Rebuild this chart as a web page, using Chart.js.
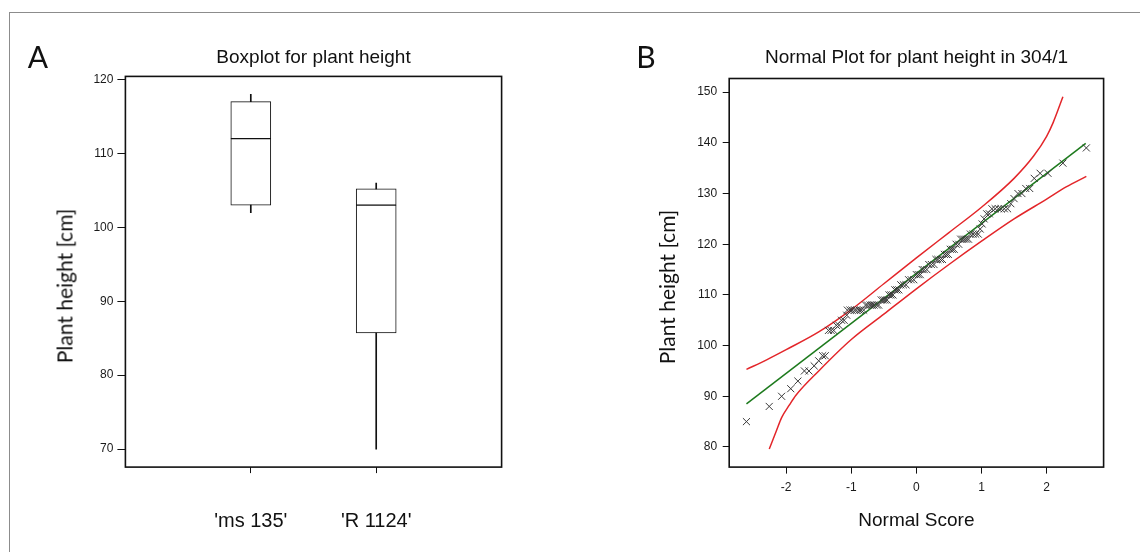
<!DOCTYPE html>
<html>
<head>
<meta charset="utf-8">
<script src="https://cdn.jsdelivr.net/npm/chart.js@4.4.1/dist/chart.umd.min.js"></script>
<style>
  body { margin: 0; width: 1140px; height: 552px; overflow: hidden; position: relative; background: #fff; }
  canvas { position: absolute; top: 0; }
  .frame { position: absolute; left: 9px; top: 12px; width: 1200px; height: 600px;
           border-top: 1.5px solid #8c8c8c; border-left: 1.5px solid #8c8c8c; }
  .lbl { position: absolute; font-family: Lato, "Open Sans", sans-serif; color: #111;
         transform: translate(-50%, -50%); white-space: nowrap; }
  .panel { font-size: 30px; }
  .ylab { font-size: 21px; transform: translate(-50%, -50%) rotate(-90deg); }
</style>
</head>
<body>
<div class="frame"></div>
<canvas id="chartA" width="627" height="552" style="left:0px"></canvas>
<canvas id="chartB" width="593" height="552" style="left:620px"></canvas>
<div class="lbl panel" style="left:38px; top:56px">A</div>
<div class="lbl panel" style="left:646px; top:56px">B</div>
<div class="lbl ylab" style="left:64px; top:286px">Plant height [cm]</div>
<div class="lbl ylab" style="left:666px; top:287px">Plant height [cm]</div>
<script>
// --------------------
// DATA - panel A (boxplot)
// --------------------
const boxLabels = ["", "'ms 135'", "'R 1124'", ""];
const boxMin = [null, 102, 70, null];
const boxQ1 = [null, 103, 85.7, null];
const boxMedian = [null, 112, 103, null];
const boxQ3 = [null, 117, 105.2, null];
const boxMax = [null, 118, 106, null];
const axisTicksA = [70, 80, 90, 100, 110, 120];

// --------------------
// DATA - panel B (normal plot)
// --------------------
const normalScore = [
  -2.61, -2.26, -2.07, -1.93, -1.82, -1.72, -1.65, -1.57, -1.50, -1.44, -1.40,
  -1.35, -1.31, -1.27, -1.23, -1.19, -1.15, -1.11, -1.07,
  -1.06, -1.02, -0.99, -0.95, -0.92, -0.88, -0.85, -0.81,
  -0.78, -0.75, -0.71, -0.68, -0.65, -0.61, -0.58,
  -0.54, -0.51, -0.48, -0.45,
  -0.42, -0.39, -0.36,
  -0.33, -0.30, -0.27,
  -0.24, -0.20, -0.16,
  -0.12, -0.08, -0.04,
  0.00, 0.03, 0.06,
  0.09, 0.12, 0.16,
  0.19, 0.23, 0.27,
  0.30, 0.33, 0.37, 0.40,
  0.43, 0.46, 0.49,
  0.52, 0.55, 0.58,
  0.61, 0.65,
  0.68, 0.71, 0.74, 0.77, 0.80,
  0.83, 0.87, 0.91, 0.95,
  0.98, 1.01, 1.04, 1.08, 1.12,
  1.16, 1.21, 1.26, 1.30, 1.35, 1.40,
  1.45, 1.50, 1.56, 1.62, 1.68, 1.74, 1.81, 1.90, 2.02, 2.25, 2.61
];
const plantHeight = [
  85, 88, 90, 91.5, 93, 95, 95, 96, 97, 98, 98,
  103, 103, 103, 104, 104, 105, 105, 106,
  107, 107, 107, 107, 107, 107, 107, 107,
  108, 108, 108, 108, 108, 108, 108,
  109, 109, 109, 109,
  110, 110, 110,
  111, 111, 111,
  112, 112, 112,
  113, 113, 113,
  114, 114, 114,
  115, 115, 115,
  116, 116, 116,
  117, 117, 117, 117,
  118, 118, 118,
  119, 119, 119,
  120, 120,
  121, 121, 121, 121, 121,
  122, 122, 122, 122,
  123, 124, 125, 126, 126,
  127, 127, 127, 127, 127, 127,
  128, 129, 130, 130, 131, 131, 133, 134, 134, 136, 139
];
const fitX = [-2.61, 2.60];
const fitY = [88.5, 139.9];
const upperX = [-2.61, -2.3, -2.0, -1.5, -1.0, -0.5, 0, 0.5, 1.0, 1.5, 1.8, 2.0, 2.1, 2.25];
const upperY = [95.3, 97.2, 99.2, 102.7, 107.1, 112.2, 117.3, 122.3, 127.3, 133.0, 137.4, 141.3, 144.0, 149.1];
const lowerX = [-2.26, -2.15, -2.07, -1.95, -1.85, -1.5, -1.0, -0.5, 0, 0.5, 1.0, 1.5, 2.0, 2.3, 2.61];
const lowerY = [79.6, 83.2, 85.8, 88.3, 90.2, 95.0, 101.2, 106.2, 111.2, 116.0, 120.6, 125.0, 128.9, 131.3, 133.4];

Chart.defaults.font.family = "'Liberation Sans', Arial, sans-serif";
Chart.defaults.color = "#1a1a1a";
Chart.defaults.animation = false;

// box around the plotting area
const framePlugin = {
  id: "frame",
  afterDraw(chart) {
    const { ctx, chartArea: a } = chart;
    ctx.save();
    ctx.strokeStyle = "#111";
    ctx.lineWidth = 1.6;
    ctx.strokeRect(a.left, a.top, a.right - a.left, a.bottom - a.top);
    ctx.restore();
  }
};

const pairs = (lo, hi) => lo.map((v, i) => (v == null ? null : [v, hi[i]]));
const xy = (xs, ys) => xs.map((x, i) => ({ x: x, y: ys[i] }));

// empty right axis, only reserves space so the title sits centred over the plot
const spacerAxis = width => ({
  position: "right",
  display: true,
  border: { display: false },
  grid: { display: false },
  ticks: { display: false },
  afterFit: s => { s.width = width; }
});

// --------------------
// PANEL A
// --------------------
const boxStyle = {
  grouped: false,
  barThickness: 40,
  backgroundColor: "#fff",
  borderColor: "#111",
  borderWidth: 1,
  borderSkipped: false
};
const whiskerStyle = {
  grouped: false,
  barThickness: 1,
  backgroundColor: "#111",
  borderWidth: 0
};

new Chart(document.getElementById("chartA"), {
  type: "bar",
  data: {
    labels: boxLabels,
    datasets: [
      { data: pairs(boxQ3, boxMax), ...whiskerStyle },
      { data: pairs(boxMin, boxQ1), ...whiskerStyle },
      { data: pairs(boxQ1, boxMedian), ...boxStyle },
      { data: pairs(boxMedian, boxQ3), ...boxStyle }
    ]
  },
  options: {
    responsive: false,
    layout: { padding: 0 },
    plugins: {
      legend: { display: false },
      tooltip: { enabled: false },
      title: {
        display: true,
        text: "Boxplot for plant height",
        color: "#111",
        font: { size: 19, weight: "normal" },
        padding: { top: 46.6, bottom: 7 }
      }
    },
    scales: {
      x: {
        offset: false,
        border: { display: false },
        grid: {
          offset: false,
          drawOnChartArea: false,
          tickLength: 6,
          color: ctx => (ctx.tick && ctx.tick.label ? "#111" : "rgba(0,0,0,0)")
        },
        ticks: { padding: 36, font: { size: 20 }, color: "#111" },
        afterFit: s => { s.height = 84.9; }
      },
      y: {
        min: 67.56,
        max: 120.42,
        border: { display: false },
        grid: { drawOnChartArea: false, tickLength: 8, color: "#111" },
        afterBuildTicks: s => { s.ticks = axisTicksA.map(v => ({ value: v })); },
        ticks: { padding: 4, font: { size: 12 } },
        afterFit: s => { s.width = 125.4; }
      },
      spacer: spacerAxis(125.4)
    }
  },
  plugins: [framePlugin]
});

// --------------------
// PANEL B
// --------------------
new Chart(document.getElementById("chartB"), {
  type: "scatter",
  data: {
    datasets: [
      {
        data: xy(normalScore, plantHeight),
        pointStyle: "crossRot",
        pointRadius: 5,
        borderColor: "#3a3a3a",
        borderWidth: 1
      },
      {
        data: xy(fitX, fitY),
        showLine: true,
        pointRadius: 0,
        borderColor: "#1d7a1d",
        borderWidth: 1.5
      },
      {
        data: xy(upperX, upperY),
        showLine: true,
        cubicInterpolationMode: "monotone",
        pointRadius: 0,
        borderColor: "#e3262a",
        borderWidth: 1.5
      },
      {
        data: xy(lowerX, lowerY),
        showLine: true,
        cubicInterpolationMode: "monotone",
        pointRadius: 0,
        borderColor: "#e3262a",
        borderWidth: 1.5
      }
    ]
  },
  options: {
    responsive: false,
    layout: { padding: 0 },
    plugins: {
      legend: { display: false },
      tooltip: { enabled: false },
      title: {
        display: true,
        text: "Normal Plot for plant height in 304/1",
        color: "#111",
        font: { size: 19, weight: "normal" },
        padding: { top: 46.6, bottom: 9.1 }
      }
    },
    scales: {
      x: {
        min: -2.875,
        max: 2.875,
        border: { display: false },
        grid: { drawOnChartArea: false, tickLength: 6.5, color: "#111" },
        ticks: { stepSize: 1, includeBounds: false, padding: 6.7, font: { size: 12 } },
        title: {
          display: true,
          text: "Normal Score",
          color: "#111",
          font: { size: 19 },
          padding: { top: 0, bottom: 19.6 }
        },
        afterFit: s => { s.height = 84.9; }
      },
      y: {
        min: 76.03,
        max: 152.7,
        border: { display: false },
        grid: { drawOnChartArea: false, tickLength: 6.5, color: "#111" },
        ticks: { stepSize: 10, includeBounds: false, padding: 5.5, font: { size: 12 } },
        afterFit: s => { s.width = 109.2; }
      },
      spacer: spacerAxis(109.4)
    }
  },
  plugins: [framePlugin]
});
</script>
</body>
</html>
